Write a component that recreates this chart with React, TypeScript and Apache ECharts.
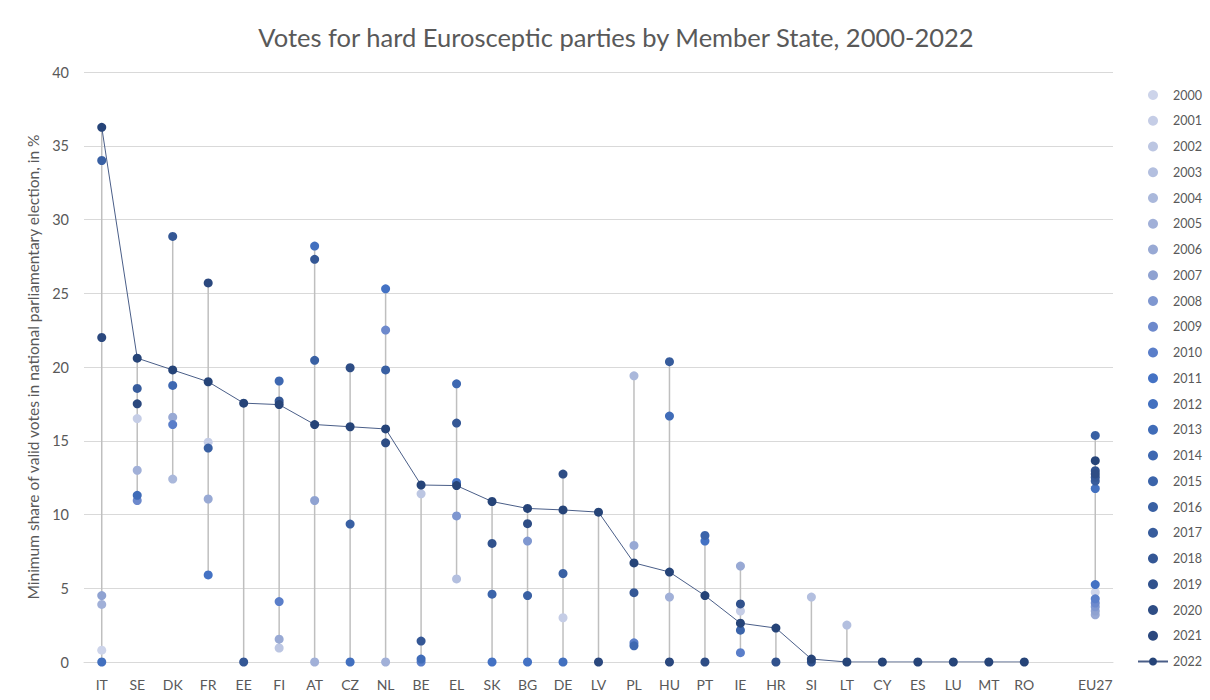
import React, { useEffect, useRef } from "react";
import * as echarts from "echarts";

const categories = ["IT","SE","DK","FR","EE","FI","AT","CZ","NL","BE","EL","SK","BG","DE","LV","PL","HU","PT","IE","HR","SI","LT","CY","ES","LU","MT","RO","","EU27"];

const years = ["2000","2001","2002","2003","2004","2005","2006","2007","2008","2009","2010","2011","2012","2013","2014","2015","2016","2017","2018","2019","2020","2021","2022"];

const yearColors = ["#cdd4ea","#c5cde6","#bcc6e2","#b3bfdf","#aab8db","#a1b0d8","#98a9d4","#8fa2d1","#7f97d0","#6d89cc","#5a7ec9","#4472c4","#4270bf","#406cb8","#3e68b1","#3b64aa","#3960a3","#375c9c","#345795","#31528d","#2e4d85","#2b487e","#264478"];

// [country, value] points per year (only the points visible in the picture)
const y2000 = [["IT",0.8],["EU27",4.73]];
const y2001 = [["SE",16.5],["FR",14.9],["IE",3.45],["DE",3.0]];
const y2002 = [["FI",0.95],["BE",11.4]];
const y2003 = [["EL",5.63],["SI",4.4],["LT",2.5]];
const y2004 = [["DK",12.4],["PL",19.4]];
const y2005 = [["IT",3.9],["SE",13.0],["AT",0],["NL",0],["HU",4.4]];
const y2006 = [["DK",16.6],["FR",11.05],["FI",1.55],["PL",7.9],["IE",6.5],["EU27",3.2]];
const y2007 = [["IT",4.5],["AT",10.95],["EU27",3.45]];
const y2008 = [["EL",9.9],["BG",8.2],["EU27",3.74]];
const y2009 = [["SE",10.95],["NL",22.5],["EU27",4.0]];
const y2010 = [["DK",16.1],["FI",4.1],["BE",0],["PL",1.3],["IE",0.63],["EU27",4.28]];
const y2011 = [["FR",5.9],["NL",25.3],["EL",12.17],["SK",0],["BG",0],["PT",8.2],["EU27",5.25]];
const y2012 = [["IT",0],["AT",28.2],["CZ",0],["DE",0],["EU27",11.76]];
const y2013 = [["SE",11.3],["BE",0.2],["HU",16.67]];
const y2014 = [["DK",18.75],["FI",19.05],["EL",18.86],["PL",1.1]];
const y2015 = [["SK",4.6],["IE",2.16],["PT",8.58]];
const y2016 = [["IT",34.0],["FR",14.5],["AT",20.45],["CZ",9.35],["NL",19.8],["BG",4.5],["DE",6.0],["EU27",15.36]];
const y2017 = [["SE",18.55],["HU",20.36],["EU27",12.27]];
const y2018 = [["DK",28.85],["EE",0],["FI",17.7],["AT",27.3],["BE",1.42],["EL",16.2],["PL",4.7],["EU27",12.52]];
const y2019 = [["SK",8.04],["IE",3.94],["HR",0],["SI",0],["EU27",12.97]];
const y2020 = [["CZ",19.95],["NL",14.86],["BG",9.38],["DE",12.74],["PT",0],["EU27",12.75]];
const y2021 = [["IT",22.0],["SE",17.5],["FR",25.7],["LV",0],["HU",0]];
// 2022 values aligned with categories (null = gap before EU27)
const v2022 = [36.25,20.6,19.8,19.0,17.55,17.45,16.1,15.95,15.8,12.0,11.96,10.88,10.41,10.31,10.16,6.72,6.1,4.5,2.63,2.3,0.2,0,0,0,0,0,0,null,13.65];

const yearPoints = [y2000,y2001,y2002,y2003,y2004,y2005,y2006,y2007,y2008,y2009,y2010,y2011,y2012,y2013,y2014,y2015,y2016,y2017,y2018,y2019,y2020,y2021];

const FONT = "Lato, 'Open Sans', sans-serif";

export default function App() {
  const ref = useRef<HTMLDivElement>(null);
  useEffect(() => {
    if (!ref.current) return;
    const chart = echarts.init(ref.current, null, { renderer: "svg" });

    // hi-lo range per category
    const lo: (number | null)[] = categories.map(() => null);
    const hi: (number | null)[] = categories.map(() => null);
    const add = (i: number, v: number | null) => {
      if (v === null || v === undefined) return;
      lo[i] = lo[i] === null ? v : Math.min(lo[i] as number, v);
      hi[i] = hi[i] === null ? v : Math.max(hi[i] as number, v);
    };
    yearPoints.forEach((pts) => pts.forEach(([c, v]) => add(categories.indexOf(c as string), v as number)));
    v2022.forEach((v, i) => add(i, v));
    const rangeData = categories
      .map((_, i) => (lo[i] === null ? null : [i, lo[i], hi[i]]))
      .filter((d) => d !== null);

    const scatterSeries = yearPoints.map((pts, k) => ({
      name: years[k],
      type: "scatter",
      data: pts,
      symbol: "circle",
      symbolSize: 9,
      itemStyle: { color: yearColors[k], opacity: 1 },
      z: 3,
    }));

    chart.setOption({
      animation: false,
      backgroundColor: "#ffffff",
      title: {
        text: "Votes for hard Eurosceptic parties by Member State, 2000-2022",
        left: 611,
        textAlign: "center",
        top: 19,
        textStyle: { fontFamily: FONT, fontSize: 25.5, fontWeight: "normal", color: "#595959" },
      },
      grid: { left: 84, right: 97, top: 72, bottom: 38 },
      legend: {
        orient: "vertical",
        left: 1132,
        top: 83,
        padding: 5,
        itemWidth: 30,
        itemHeight: 10,
        itemGap: 11.75,
        textStyle: { fontFamily: FONT, fontSize: 12.5, color: "#595959", lineHeight: 14 },
        data: years,
      },
      xAxis: {
        type: "category",
        data: categories,
        boundaryGap: true,
        axisLine: { show: true, lineStyle: { color: "#d9d9d9", width: 1 } },
        axisTick: { show: false },
        axisLabel: { interval: 0, fontFamily: FONT, fontSize: 14, color: "#595959", margin: 15 },
        splitLine: { show: false },
      },
      yAxis: {
        type: "value",
        min: 0,
        max: 40,
        interval: 5,
        name: "Minimum share of valid votes in national parliamentary election, in %",
        nameLocation: "middle",
        nameGap: 40,
        nameTextStyle: { fontFamily: FONT, fontSize: 15.5, color: "#595959" },
        axisLine: { show: false },
        axisTick: { show: false },
        axisLabel: { fontFamily: FONT, fontSize: 14.5, color: "#595959", margin: 15 },
        splitLine: { lineStyle: { color: "#d9d9d9", width: 1 } },
      },
      series: [
        {
          type: "custom",
          name: "range",
          data: rangeData,
          encode: { x: 0, y: [1, 2] },
          z: 1,
          silent: true,
          renderItem: (params: any, api: any) => {
            const p1 = api.coord([api.value(0), api.value(1)]);
            const p2 = api.coord([api.value(0), api.value(2)]);
            return {
              type: "line",
              shape: { x1: p1[0], y1: p1[1], x2: p2[0], y2: p2[1] },
              style: { stroke: "#bfbfbf", lineWidth: 1.5 },
            };
          },
        },
        ...scatterSeries,
        {
          name: "2022",
          type: "line",
          data: v2022,
          connectNulls: false,
          symbol: "circle",
          symbolSize: 9,
          showSymbol: true,
          lineStyle: { color: "#4a5e88", width: 1 },
          itemStyle: { color: "#264478" },
          z: 4,
        },
      ],
    });
    return () => chart.dispose();
  }, []);
  return <div ref={ref} style={{ position: "absolute", left: 0, top: 0, width: 1210, height: 700 }} />;
}
